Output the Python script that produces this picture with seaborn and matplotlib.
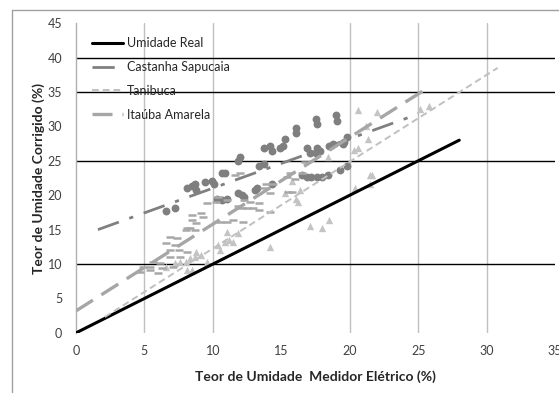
import numpy as np
import matplotlib
matplotlib.use("Agg")
import matplotlib.pyplot as plt
import seaborn as sns
from matplotlib.lines import Line2D

# data
cs_x = [6.6, 7.2, 8.1, 8.5, 8.7, 8.8, 9.4, 9.9, 10.1, 10.3, 10.7, 11.0, 11.8, 12.1, 12.3, 13.1, 13.2, 14.3,
        10.7, 10.9, 11.8, 12.0, 13.4, 13.7, 13.7, 14.2, 14.3, 14.9, 15.1, 15.3, 16.1, 16.1, 17.5, 17.6,
        19.0, 19.1, 16.9, 17.1, 17.5, 17.6, 17.8, 18.5, 18.8, 19.5, 19.6, 19.8, 16.5, 16.9, 17.2, 17.6,
        18.0, 18.4, 19.3, 19.8]
cs_y = [17.7, 18.2, 21.1, 21.4, 21.7, 20.7, 21.9, 22.0, 21.7, 19.5, 19.3, 19.5, 20.3, 20.1, 19.8, 20.7, 21.0, 21.7,
        23.3, 23.3, 25.0, 25.5, 24.2, 24.6, 26.8, 27.2, 26.5, 26.8, 27.2, 28.1, 29.8, 29.1, 31.1, 30.4,
        31.7, 30.8, 26.8, 26.2, 26.2, 26.8, 26.5, 27.2, 27.5, 27.5, 27.8, 28.5, 22.9, 22.6, 22.6, 22.6,
        22.6, 23.0, 23.6, 24.3]

tb_x = [6.6, 7.2, 7.6, 8.0, 8.1, 8.3, 8.5, 8.7, 8.8, 9.1, 9.6, 9.6, 10.4, 10.5, 10.9, 11.0, 11.2, 11.5, 11.8,
        14.2, 15.3, 15.8, 16.1, 16.2, 16.4, 17.1, 18.0, 18.5, 18.4, 20.3, 20.6, 20.4, 21.5, 21.5, 21.6,
        21.2, 21.3, 20.6, 22.0, 25.1, 25.8]
tb_y = [9.6, 10.1, 10.3, 10.3, 9.1, 10.9, 9.1, 11.0, 11.7, 11.3, 10.1, 10.3, 12.7, 12.0, 13.2, 14.6, 13.5, 13.2, 14.5,
        12.5, 20.3, 22.1, 19.5, 19.0, 20.7, 15.6, 15.3, 16.4, 25.6, 26.6, 26.8, 21.0, 23.0, 21.7, 22.9,
        30.1, 28.1, 32.4, 32.1, 32.6, 32.9]

ia_x = [4.7, 4.9, 5.4, 5.4, 5.6, 6.0, 6.1, 6.3, 6.6, 6.9, 6.9, 6.9, 7.1, 7.2, 7.4, 7.5, 7.6, 8.0, 8.1, 8.1,
        8.3, 8.5, 8.5, 8.7, 8.8, 9.1, 9.3, 9.6, 10.2, 10.4, 10.5, 11.0, 11.0, 11.5, 11.6, 11.8, 12.0, 12.1,
        12.2, 12.3, 12.5, 12.7, 12.9, 13.4, 13.4, 13.7, 13.9, 14.2, 14.2, 14.4, 15.4, 15.5, 15.6, 15.8,
        16.0, 16.5, 16.7]
ia_y = [8.8, 9.6, 9.6, 9.1, 10.3, 8.7, 10.1, 9.4, 13.0, 13.9, 12.0, 11.0, 9.6, 12.7, 13.8, 12.0, 11.0, 14.9, 15.2, 11.7,
        15.3, 17.1, 16.4, 14.9, 15.9, 17.4, 16.8, 18.8, 19.0, 19.7, 16.1, 19.3, 16.1, 16.4, 22.9, 18.5, 23.3, 18.2,
        16.1, 19.3, 18.1, 19.0, 18.2, 18.8, 17.8, 21.0, 21.7, 20.3, 17.5, 21.7, 22.6, 20.4, 23.2, 20.4,
        22.4, 23.3, 24.8]

# trend lines (end points)
real_x = [0, 28]
real_y = [0, 28]
cs_fit_x = [1.6, 25.0]
cs_fit_y = [15.0, 31.8]
tb_fit_x = [2.1, 30.8]
tb_fit_y = [2.3, 38.5]
ia_fit_x = [0.0, 25.7]
ia_fit_y = [3.2, 35.6]

x_ticks = [0, 5, 10, 15, 20, 25, 30, 35]
y_ticks = [0, 5, 10, 15, 20, 25, 30, 35, 40, 45]

sns.set_style("white")
plt.rcParams['font.family'] = ['Lato', 'DejaVu Sans']

fig = plt.figure(figsize=(5.59, 3.93), dpi=100)
ax = fig.add_axes([0.136, 0.153, 0.857, 0.788])

# grid lines like the reference (some missing)
for xv in [5, 10, 20, 25, 30]:
    ax.axvline(xv, color="#c0c0c0", lw=1.0, zorder=0)
for yv in [10, 25, 35, 40]:
    ax.axhline(yv, color="black", lw=1.0, zorder=0)

# points
sns.scatterplot(x=cs_x, y=cs_y, color="#7f7f7f", marker="o", s=32, linewidth=0, ax=ax, zorder=3)
sns.scatterplot(x=tb_x, y=tb_y, color="#c4c4c4", marker="^", s=28, linewidth=0, ax=ax, zorder=3)
sns.scatterplot(x=ia_x, y=ia_y, color="#a8a8a8", marker="_", s=30, linewidth=1.8, ax=ax, zorder=3)

# lines
sns.lineplot(x=real_x, y=real_y, color="black", lw=2.2, label="Umidade Real", ax=ax, zorder=4)
sns.lineplot(x=cs_fit_x, y=cs_fit_y, color="#808080", lw=2.0, linestyle=(0, (8, 4, 1.5, 4)),
             label="Castanha Sapucaia", ax=ax, zorder=4)
sns.lineplot(x=tb_fit_x, y=tb_fit_y, color="#c0c0c0", lw=1.4, linestyle=(0, (3.5, 2)),
             label="Tanibuca", ax=ax, zorder=4)
sns.lineplot(x=ia_fit_x, y=ia_fit_y, color="#a6a6a6", lw=2.4, linestyle=(0, (6, 3)),
             label="Itaúba Amarela", ax=ax, zorder=4)

ax.set_xlim(0, 35)
ax.set_ylim(0, 45)
ax.set_xticks(x_ticks)
ax.set_yticks(y_ticks)
ax.tick_params(axis="x", length=0, pad=9, labelsize=9, labelcolor="#404040")
ax.tick_params(axis="y", length=4, width=1, color="black", pad=6, labelsize=9, labelcolor="#404040")
for t, v in zip(ax.yaxis.get_major_ticks(), y_ticks):
    if v not in (0, 10, 25, 35, 40):
        t.tick1line.set_visible(False)

for s in ["top", "right", "bottom"]:
    ax.spines[s].set_visible(False)
ax.spines["left"].set_color("#b0b0b0")
ax.spines["left"].set_linewidth(1.0)

ax.set_xlabel("Teor de Umidade  Medidor Elétrico (%)", fontsize=10, fontweight="bold", labelpad=9)
ax.set_ylabel("Teor de Umidade Corrigido (%)", fontsize=10, fontweight="bold", labelpad=2)

leg = ax.legend(loc="upper left", bbox_to_anchor=(0.033, 0.955), frameon=False, fontsize=9,
                handlelength=2.5, handletextpad=0.3, labelspacing=0.95, borderaxespad=0,
                borderpad=0)

# outer chart frame (partially visible in the reference)
fig.add_artist(Line2D([12 / 559, 12 / 559], [0, 1 - 10 / 393], color="#a0a0a0", lw=1.0))
fig.add_artist(Line2D([12 / 559, 1], [1 - 10 / 393, 1 - 10 / 393], color="#a0a0a0", lw=1.0))

fig.savefig("out.png", dpi=100)
